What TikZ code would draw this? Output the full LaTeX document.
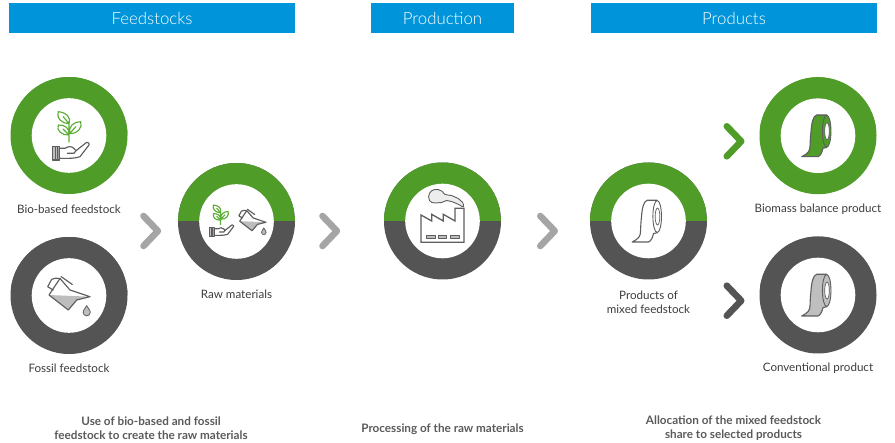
\documentclass[tikz,border=0pt]{standalone}
\usepackage{fontspec}
\setmainfont{Lato}
\newfontfamily\barfont{Lato Light}
\definecolor{leaf}{HTML}{4F9D28}
\definecolor{coal}{HTML}{545454}
\definecolor{chevgray}{HTML}{A5A5A5}
\definecolor{barblue}{HTML}{0095DA}
\definecolor{inkgray}{HTML}{5E5E5E}
\definecolor{txt}{HTML}{3C3C3C}
\definecolor{boldtxt}{HTML}{5A5A5A}
\definecolor{liquid}{HTML}{BDBDBD}
\definecolor{leafline}{HTML}{5CAE36}
\tikzset{
  x=1pt,y=-1pt,
  bar/.style={fill=barblue,text=white,font=\barfont\fontsize{16.8}{20}\selectfont,anchor=center,inner sep=0pt},
  disc/.style={circle,minimum size=117pt,inner sep=0pt,outer sep=0pt},
  hole/.style={circle,fill=white,minimum size=74.6pt,inner sep=0pt,outer sep=0pt},
  lab/.style={text=txt,font=\fontsize{11.6}{14}\selectfont,align=center,inner sep=0pt},
  note/.style={text=boldtxt,font=\fontsize{11.7}{14}\selectfont\bfseries,align=center,inner sep=0pt},
  icon/.style={draw=inkgray,line width=1.15pt,line join=round,line cap=round},
  chevron/.pic={\draw[line width=6.6pt,line cap=round,line join=round,pic actions] (-7.2,-15) -- (7.2,0) -- (-7.2,15);},
  plantHand/.pic={
    \draw[leafline,line width=1.15pt,line join=round]
      (0,-12) .. controls (2,-19) and (-3,-23) .. (-10.7,-23.8) .. controls (-13,-18) and (-8,-12) .. (0,-12)
      (0,-.5) .. controls (1,-7) and (-4,-11) .. (-10.7,-10.5) .. controls (-13,-5) and (-7,0) .. (0,-.5)
      (1,-2.2) .. controls (-1,-9) and (5,-14) .. (11.7,-13.8) .. controls (14,-8) and (8,-1) .. (1,-2.2)
      (0,-14) -- (0,6.8) (-6,-19) -- (0,-12) (-6,-6.5) -- (0,-.5) (7,-9) -- (1,-2.2);
    \draw[icon,fill=liquid] (-16.3,11.2) rectangle (-9.7,24.5);
    \draw[icon,line width=.7pt] (-14,11.2) -- (-14,24.5) (-12,11.2) -- (-12,24.5);
    \draw[icon,fill=white] (-9.7,12.8) -- (-4,12.8) .. controls (-1,10.6) and (3,10.6) .. (5,13) -- (7,15.2) -- (17.7,6.8)
      .. controls (20,6.5) and (20.5,8.5) .. (20,9.5) -- (11,21.2) .. controls (6,23) and (0,23) .. (-9.7,22.8) -- cycle;
    \draw[icon] (-1.7,17.8) -- (5,17.8) -- (7,15.2);
  },
  oilCan/.pic={
    \fill[liquid] (-20,-.5) -- (21,1.2) -- (7.7,4.5) -- (-.7,14.5) -- cycle;
    \draw[icon] (-15.7,-5.5) -- (-21.3,-8.8) -- (-17.3,-16.2) .. controls (-15,-17.5) and (-12,-17.5) .. (-9,-17);
    \draw[icon] (-20,-.5) -- (-9,-17) -- (1,-5.5) -- (21,1.2) -- (7.7,4.5) -- (-.7,14.5) -- cycle;
    \draw[icon] (-8,-19) -- (3.3,-11);
    \fill[liquid,draw=inkgray,line width=.8pt] (17.7,10.2) .. controls (18.5,12) and (21.3,14.8) .. (21.3,16.8) arc[start angle=0,end angle=180,radius=3.6] .. controls (14.1,14.8) and (16.9,12) .. (17.7,10.2) -- cycle;
  },
  plant/.pic={
    \draw[icon,line width=1.3pt,line cap=butt,line join=miter] (-21.5,21.3) -- (-21.5,-6) -- (-10.8,0) -- (-10.8,-6.7) -- (.8,0) -- (.8,-6.7) -- (12.5,0) -- (12.5,-12.7) -- (21.5,-12.7) -- (21.5,21.3) -- cycle;
    \foreach \q in {-15.8,-4.2,8.2} \draw[icon,line width=.9pt,fill=liquid] (\q,14) rectangle ++(8.3,3.3);
    \draw[icon,line width=.9pt,fill=black!7] plot[smooth cycle,tension=.8] coordinates {(-13,-27.7) (-7.5,-31.5) (-.8,-30) (2.5,-26.5) (9,-25.5) (15.8,-22.5) (20,-18.7) (20.8,-14.3) (16.8,-16.2) (9,-19.5) (4,-20.5) (-.8,-18.5) (-7.5,-18) (-13,-20.5)};
  },
  tape/.pic={
    \draw[icon,line width=1.1pt,pic actions] (-1.3,-20.7) -- (8.7,-20.7) -- (8.7,11.7) -- (5,12.6) .. controls (4,17) and (2.5,20) .. (0,21) -- (-16.3,21) .. controls (-10,18) and (-8,15) .. (-8,11) .. controls (-7.8,5) and (-7.5,0) .. (-7,-4) .. controls (-6.5,-12) and (-5,-20) .. (-1.3,-20.7) -- cycle;
    \draw[icon,line width=.9pt,pic actions] (8.7,-4.5) ellipse[x radius=4.3,y radius=16];
    \draw[icon,line width=.7pt,fill=white] (9,-4.5) ellipse[x radius=2.3,y radius=8.5];
  }
}
\newcommand{\ringnode}[5]{%
  \node[disc,fill=#5,path picture={\fill[#4] (path picture bounding box.north west) rectangle (path picture bounding box.east);}] (#1) at (#2,#3) {};
  \node[hole] (#1in) at (#1.center) {};
}
\begin{document}
\begin{tikzpicture}
\useasboundingbox (0,0) rectangle (895,443);
\node[bar,minimum width=286pt,minimum height=30pt] (hf) at (152,18) {Feedstocks};
\node[bar,minimum width=143pt,minimum height=30pt] (hp) at (442.5,18) {Production};
\node[bar,minimum width=286pt,minimum height=30pt] (hq) at (734,18) {Products};

\ringnode{bio}{69}{135.5}{leaf}{leaf}
\ringnode{fos}{69}{295.5}{coal}{coal}
\ringnode{raw}{236.5}{221.5}{leaf}{coal}
\ringnode{prd}{442.5}{221}{leaf}{coal}
\ringnode{mix}{648.5}{221}{leaf}{coal}
\ringnode{bal}{818}{135.7}{leaf}{leaf}
\ringnode{con}{818}{295}{coal}{coal}

\pic at (bio.center) {plantHand};
\pic at (fos.center) {oilCan};
\pic[scale=.65] at ([shift={(-16,-1)}]raw.center) {plantHand};
\pic[scale=.64] at ([shift={(16,0)}]raw.center) {oilCan};
\pic at (prd.center) {plant};
\pic[fill=white] at (mix.center) {tape};
\pic[fill=leaf] at (bal.center) {tape};
\pic[fill=black!25] at (con.center) {tape};

\pic[draw=chevgray] at (150.7,231) {chevron};
\pic[draw=chevgray] at (329.7,231) {chevron};
\pic[draw=chevgray] at (547.5,231) {chevron};
\pic[draw=leaf] at (734,141.3) {chevron};
\pic[draw=coal] at (734,300.7) {chevron};

\node[lab] (tbio) at (69,209) {Bio-based feedstock};
\node[lab] (tfos) at (69,368.5) {Fossil feedstock};
\node[lab] (traw) at (236.5,294.5) {Raw materials};
\node[lab] (tmix) at (648.5,302) {Products of\\mixed feedstock};
\node[lab] (tbal) at (818,209) {Biomass balance product};
\node[lab] (tcon) at (818,368.5) {Conventional product};

\node[note] (n1) at (151,428) {Use of bio-based and fossil\\feedstock to create the raw materials};
\node[note] (n2) at (442.5,429) {Processing of the raw materials};
\node[note] (n3) at (733.5,428) {Allocation of the mixed feedstock\\share to selected products};
\end{tikzpicture}
\end{document}
